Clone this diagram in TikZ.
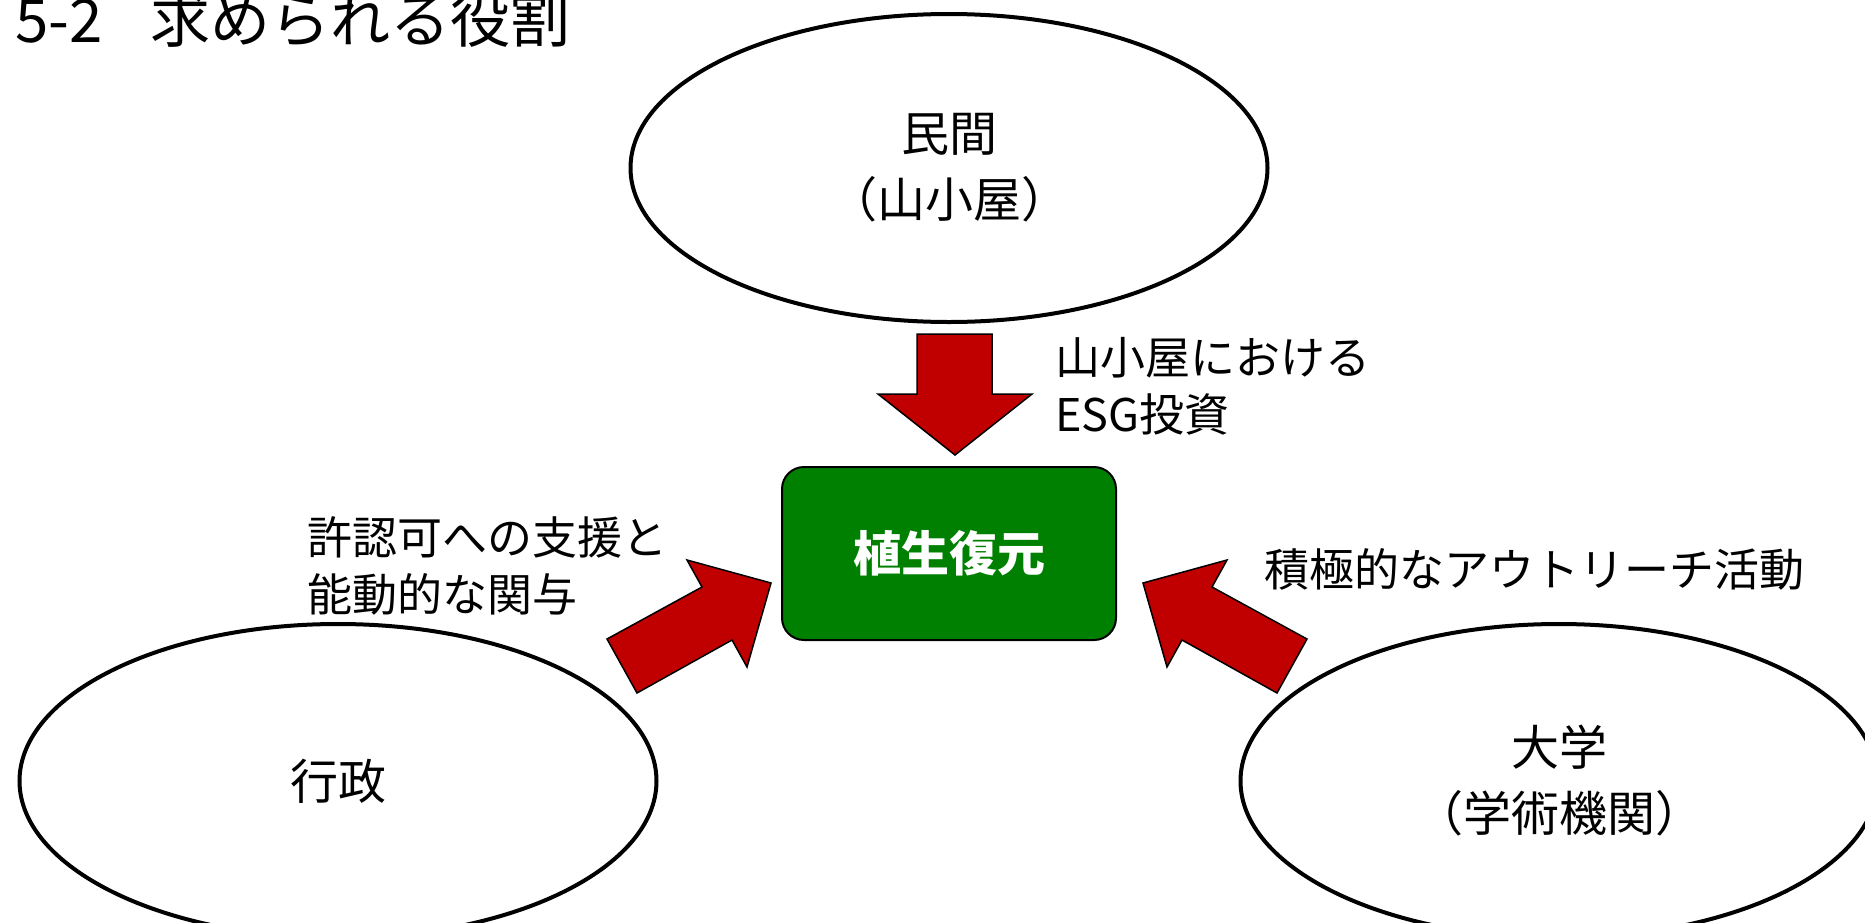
\documentclass[tikz,border=0pt]{standalone}
\usepackage{fontspec}
\setmainfont{Noto Sans CJK JP}
\usetikzlibrary{shapes.geometric}
\definecolor{arrowred}{RGB}{192,0,0}
\definecolor{boxgreen}{RGB}{0,128,0}
\tikzset{
  ell/.style={ellipse, draw=black, line width=2pt, fill=white, inner sep=0pt,
    align=center, font=\fontsize{24pt}{33pt}\selectfont},
  ellsize/.style={minimum width=318.5pt, minimum height=157pt},
  core/.style={rectangle, rounded corners=11pt, draw=black, line width=1pt,
    fill=boxgreen, text=white, minimum width=167pt, minimum height=86.5pt,
    font=\fontsize{24pt}{30pt}\selectfont\bfseries},
  blockarrow/.style={fill=arrowred, draw=black, line width=0.75pt, line join=miter},
  lbl/.style={anchor=west, align=left, inner sep=0pt,
    font=\fontsize{22.5pt}{28.5pt}\selectfont},
  ttl/.style={anchor=base west, inner sep=0pt, font=\fontsize{30pt}{36pt}\selectfont}
}
\begin{document}
\begin{tikzpicture}[x=0.5pt, y=-0.5pt]
\useasboundingbox (0,0) rectangle (1865,922);
\clip (0,0) rectangle (1865,922);
\fill[white] (0,0) rectangle (1865,922);

% title
\node[ttl] (title) at (15,42) {5-2\hspace{0.8em}求められる役割};

% ellipses
\node[ell, ellsize, minimum height=154pt] (private) at (949,168) {民間\\（山小屋）};
\node[ell, ellsize] (gov) at (338,781) {行政};
\node[ell, ellsize] (univ) at (1559,781) {大学\\（学術機関）};

% central box
\node[core] (core) at (949,553.5) {植生復元};

% block arrows
\draw[blockarrow] (917,334) -- (992,334) -- (992,394) -- (1032,394) -- (955,455)
  -- (878,394) -- (917,394) -- cycle;
\draw[blockarrow] (637,693) -- (607,639) -- (702,587) -- (687,560) -- (771,583)
  -- (747,667) -- (732,640) -- cycle;
\draw[blockarrow] (1277,693) -- (1307,639) -- (1212,587) -- (1227,560) -- (1143,583)
  -- (1167,667) -- (1182,640) -- cycle;

% labels
\node[lbl] (lblprivate) at (1055,386) {山小屋における\\ESG投資};
\node[lbl] (lblgov) at (307,566) {許認可への支援と\\能動的な関与};
\node[lbl] (lbluniv) at (1264,569) {積極的なアウトリーチ活動};
\end{tikzpicture}
\end{document}
